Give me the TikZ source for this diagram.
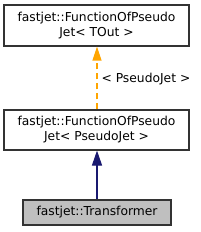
\documentclass[tikz,border=0pt]{standalone}
\usepackage{fontspec}
\setmainfont{DejaVu Sans}
\usetikzlibrary{arrows.meta}
\definecolor{edgeorange}{HTML}{FFA500}
\definecolor{edgeblue}{HTML}{191970}
\definecolor{curgray}{HTML}{BFBFBF}
\begin{document}
\begin{tikzpicture}[x = 1pt, y = -1pt, font = \fontsize{12.3}{15}\selectfont,
        classnode/.style={rectangle, draw=black!80, line width=1.1pt, align=center, inner sep=0pt},
        current/.style={classnode, fill=curgray},
        tmpl/.style={draw=edgeorange, line width=1.1pt, dash pattern=on 6pt off 4pt, -{Triangle[width=9pt, length=14pt]}},
        inherit/.style={draw=edgeblue, line width=1.1pt, -{Triangle[width=10pt, length=15pt]}}]

        \useasboundingbox (0, 0) rectangle (200, 232);

        \node[classnode, minimum width=185pt, minimum height=41pt] at (96.5, 25.5) (fofpj){fastjet::FunctionOfPseudo\\Jet< TOut >};
        \node[classnode, minimum width=185pt, minimum height=40pt] at (96.5, 130) (fofpjpj){fastjet::FunctionOfPseudo\\Jet< PseudoJet >};
        \node[current, minimum width=148pt, minimum height=25pt] at (97, 212.5) (trans){fastjet::Transformer};

        \draw[tmpl] (fofpjpj.north -| 97, 0) -- (fofpj.south -| 97, 0) node[pos=0.48, right, inner sep=4pt]{< PseudoJet >};
        \draw[inherit] (trans.north -| 97, 0) -- (fofpjpj.south -| 97, 0);
        \end{tikzpicture}
\end{document}
